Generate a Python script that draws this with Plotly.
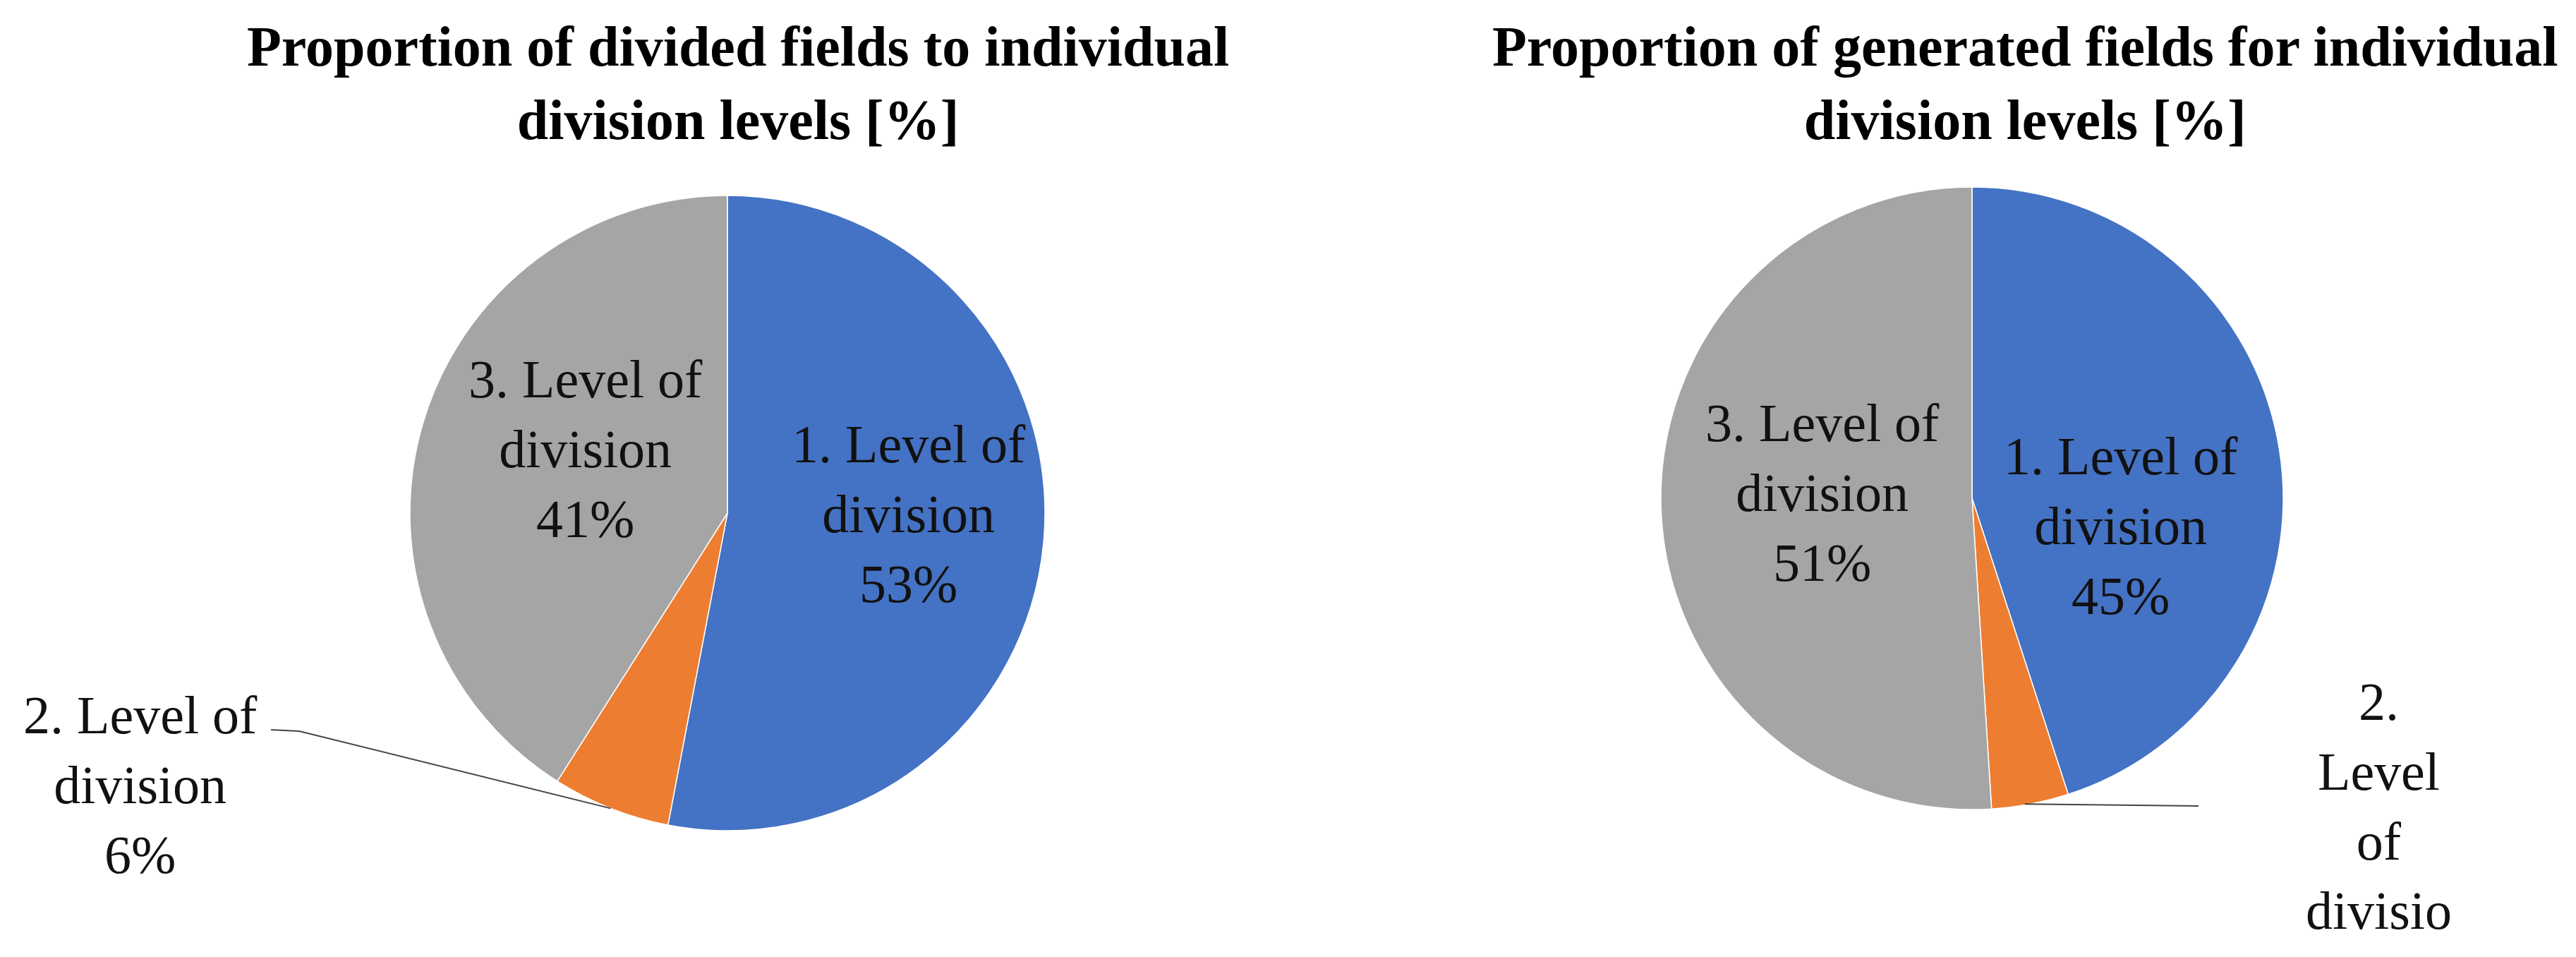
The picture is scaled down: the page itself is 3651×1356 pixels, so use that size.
import math
import plotly.graph_objects as go

W, H = 3651, 1356

# ---------------- data ----------------
categories = ["1. Level of division", "2. Level of division", "3. Level of division"]
label_lines = ["1. Level of<br>division", "2. Level of<br>division", "3. Level of<br>division"]
divided_pct = [53, 6, 41]
generated_pct = [45, 4, 51]
titles = [
    "Proportion of divided fields to individual<br>division levels [%]",
    "Proportion of generated fields for individual<br>division levels [%]",
]
colors = ["#4472C4", "#ED7D31", "#A5A5A5"]

# ---------------- layout (pixels) ----------------
pies = [dict(cx=1023, cy=719, r=450), dict(cx=2787, cy=698, r=441)]
title_x = [1038, 2862]
title_cy = 110
# inside-label offsets (px) from each pie centre (None = outside label)
label_off = [[(257, 1), None, (-201, -91)], [(211, 39), None, (-212, -8)]]
FONT = "Liberation Serif"
LFS = 76


def px(x):
    return x / W


def py(y):
    return 1 - y / H


def slice_angles(vals):
    tot = sum(vals)
    out, c = [], 0.0
    for v in vals:
        out.append((c / tot * 360, (c + v) / tot * 360))
        c += v
    return out


def polar(p, theta, frac):
    t = math.radians(theta)
    return p["cx"] + frac * p["r"] * math.sin(t), p["cy"] - frac * p["r"] * math.cos(t)


fig = go.Figure()
annotations = []
shapes = []

for i, (vals, p) in enumerate(zip([divided_pct, generated_pct], pies)):
    fig.add_trace(go.Pie(
        labels=categories, values=vals, sort=False, direction="clockwise", rotation=0,
        marker=dict(colors=colors, line=dict(color="white", width=1.5)),
        textinfo="none", hoverinfo="label+percent", showlegend=False,
        domain=dict(x=[px(p["cx"] - p["r"]), px(p["cx"] + p["r"])],
                    y=[py(p["cy"] + p["r"]), py(p["cy"] - p["r"])]),
    ))
    tot = sum(vals)
    for j in range(len(vals)):
        pct = round(vals[j] / tot * 100)
        if label_off[i][j] is not None:
            dx, dy = label_off[i][j]
            annotations.append(dict(
                x=px(p["cx"] + dx), y=py(p["cy"] + dy), xref="paper", yref="paper",
                showarrow=False, xanchor="center", yanchor="middle",
                text=f"{label_lines[j]}<br>{pct}%",
                font=dict(family=FONT, size=LFS, color="#111111")))
    # title
    annotations.append(dict(
        x=px(title_x[i]), y=py(title_cy), xref="paper", yref="paper", showarrow=False,
        xanchor="center", yanchor="middle", text=f"<b>{titles[i]}</b>",
        font=dict(family=FONT, size=80, color="#000000")))

# small slice (2. level) outside labels with leader lines
a0, a1 = slice_angles(divided_pct)[1]
ex, ey = polar(pies[0], (a0 + a1) / 2, 1.0)
pct2 = round(divided_pct[1] / sum(divided_pct) * 100)
annotations.append(dict(
    x=px(191), y=py(1104), xref="paper", yref="paper", showarrow=False,
    xanchor="center", yanchor="middle", text=f"{label_lines[1]}<br>{pct2}%",
    font=dict(family=FONT, size=LFS, color="#111111")))
shapes.append(dict(
    type="path", xref="paper", yref="paper",
    path=f"M {px(376)} {py(1026)} L {px(416)} {py(1028)} L {px(ex)} {py(ey)}",
    line=dict(color="#444444", width=2)))

a0, a1 = slice_angles(generated_pct)[1]
ex, ey = polar(pies[1], (a0 + a1) / 2, 1.0)
annotations.append(dict(
    x=px(3363), y=py(1134), xref="paper", yref="paper", showarrow=False,
    xanchor="center", yanchor="middle", text="2.<br>Level<br>of<br>divisio",
    font=dict(family=FONT, size=LFS, color="#111111")))
shapes.append(dict(
    type="path", xref="paper", yref="paper",
    path=f"M {px(ex - 8)} {py(ey)} L {px(3108)} {py(1134)}",
    line=dict(color="#444444", width=2)))

fig.update_layout(
    width=W, height=H,
    margin=dict(l=0, r=0, t=0, b=0),
    paper_bgcolor="white", plot_bgcolor="white",
    annotations=annotations, shapes=shapes,
    font=dict(family=FONT),
)

fig.write_html("out.html")
